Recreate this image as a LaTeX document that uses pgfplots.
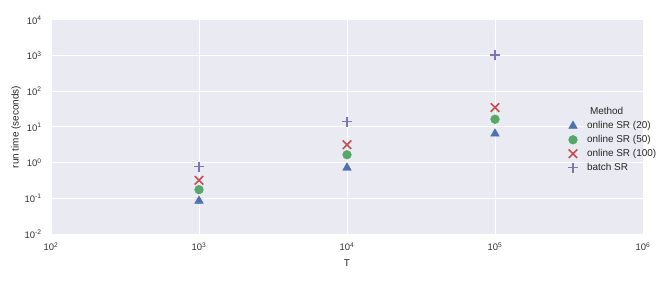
\documentclass[border=0pt]{standalone}
\usepackage{pgfplots}
\pgfplotsset{compat=1.18}
\usepackage{fontspec}
\setmainfont{Liberation Sans}
\definecolor{bgc}{HTML}{EAEAF2}
\definecolor{sblue}{HTML}{4C72B0}
\definecolor{sgreen}{HTML}{55A868}
\definecolor{sred}{HTML}{C44E52}
\definecolor{spurple}{HTML}{8172B2}
\begin{document}
\begin{tikzpicture}
\begin{axis}[
  name=ax,
  scale only axis,
  width=592bp, height=214bp,
  xmode=log, ymode=log,
  xmin=1e2, xmax=1e6, ymin=1e-2, ymax=1e4,
  axis background/.style={fill=bgc},
  axis line style={draw=none},
  grid=major,
  major grid style={white, line width=1bp},
  tick style={draw=none},
  xtick={1e2,1e3,1e4,1e5,1e6},
  xticklabels={10\textsuperscript{2},10\textsuperscript{3},10\textsuperscript{4},10\textsuperscript{5},10\textsuperscript{6}},
  ytick={1e-2,1e-1,1e0,1e1,1e2,1e3,1e4},
  yticklabels={10\textsuperscript{-2},10\textsuperscript{-1},10\textsuperscript{0},10\textsuperscript{1},10\textsuperscript{2},10\textsuperscript{3},10\textsuperscript{4}},
  ticklabel style={font=\fontsize{9.5}{11}\selectfont, text=black!80},
  xticklabel style={yshift=-5bp},
  yticklabel style={xshift=-6bp},
  xlabel={T}, ylabel={run time (seconds)},
  label style={font=\fontsize{10}{12}\selectfont, text=black!85},
  xlabel style={yshift=-2bp},
  ylabel style={yshift=-3bp},
  legend style={draw=none, fill=none, at={(rel axis cs:0.862,0.61)}, anchor=north west,
    font=\fontsize{10}{12}\selectfont, text=black!85, row sep=1.2bp,
    /tikz/column 1/.style={column sep=7bp}},
  legend cell align=left,
]
\addlegendimage{empty legend}
\addlegendentry{\hspace{3bp}Method}
\addplot[only marks, mark=triangle*, mark size=5bp, color=sblue] coordinates {(1e3,0.085) (1e4,0.72) (1e5,6.5)};
\addlegendentry{online SR (20)}
\addplot[only marks, mark=*, mark size=4.4bp, color=sgreen] coordinates {(1e3,0.175) (1e4,1.67) (1e5,16.5)};
\addlegendentry{online SR (50)}
\addplot[only marks, mark=x, mark size=6bp, line width=1.6bp, color=sred] coordinates {(1e3,0.32) (1e4,3.2) (1e5,35)};
\addlegendentry{online SR (100)}
\addplot[only marks, mark=+, mark size=5bp, line width=1.4bp, color=spurple] coordinates {(1e3,0.77) (1e4,14) (1e5,1050)};
\addlegendentry{batch SR}
\end{axis}
\path (ax.south west) ++(-51bp,-48bp) coordinate (bl);
\path (ax.north east) ++(21bp,20bp) coordinate (tr);
\path[use as bounding box] (bl) rectangle (tr);
\end{tikzpicture}
\end{document}
